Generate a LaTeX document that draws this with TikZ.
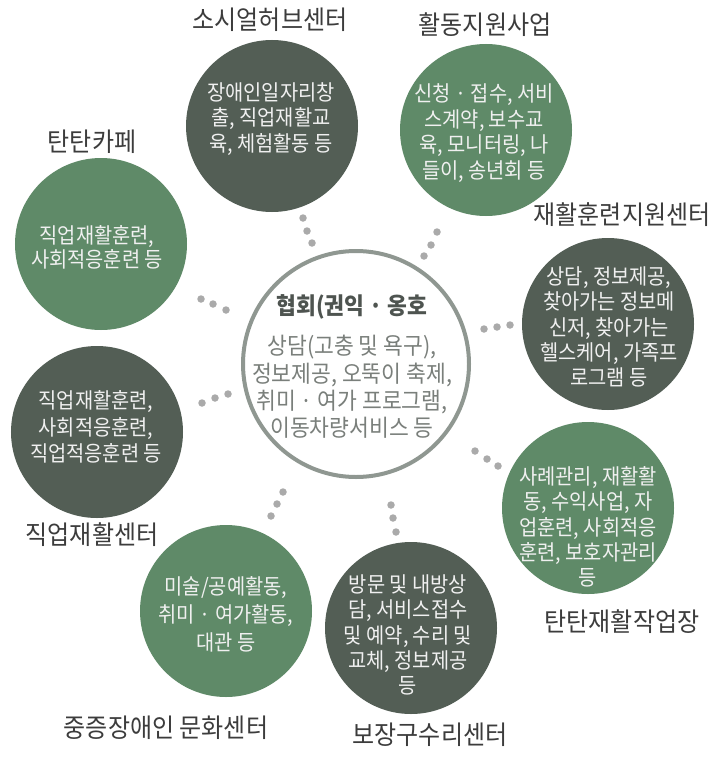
\documentclass[tikz,border=0pt]{standalone}
\usepackage{fontspec}
\setmainfont{Noto Sans CJK KR}[FakeStretch=0.92]
\definecolor{darkc}{HTML}{535E55}
\definecolor{greenc}{HTML}{5F8A68}
\definecolor{ringc}{HTML}{8F9791}
\definecolor{dotc}{HTML}{AAAAAA}
\definecolor{labc}{HTML}{3C3C3C}
\definecolor{bodyc}{HTML}{7A7F7B}
\definecolor{titc}{HTML}{4E5450}
\begin{document}
\begin{tikzpicture}[x=1bp,y=-1bp,
  dk/.style={circle, fill=darkc, minimum size=172bp, inner sep=0},
  gr/.style={circle, fill=greenc, minimum size=172bp, inner sep=0},
  ctext/.style={text=white!94!black, align=center, inner sep=0, font=\fontsize{21.6}{25.5}\selectfont},
  lbl/.style={text=labc, inner sep=0, font=\fontsize{26.2}{30}\selectfont},
  gdot/.style={circle, fill=dotc, minimum size=7.5bp, inner sep=0}]
\useasboundingbox (0,0) rectangle (716,762);
% centre
\node[circle, draw=ringc, line width=4bp, fill=white, minimum size=226bp, inner sep=0] (hub) at (356,364) {};
\node[text=titc, inner sep=0, font=\fontsize{23.5}{26}\selectfont\bfseries] (hubt) at (352,307) {협회(권익 · 옹호};
\node[text=bodyc, align=center, inner sep=0, font=\fontsize{23.5}{27.5}\selectfont] (hubb) at (352,387) {상담(고충 및 욕구),\\정보제공, 오뚝이 축제,\\취미 · 여가 프로그램,\\이동차량서비스 등};
% outer circles
\node[dk] (c1) at (272,126) {};
\node[ctext] (t1) at (271,119) {장애인일자리창\\출, 직업재활교\\육, 체험활동 등};
\node[gr] (c2) at (486,130) {};
\node[ctext] (t2) at (484,133) {신청 · 접수, 서비\\스계약, 보수교\\육, 모니터링, 나\\들이, 송년회 등};
\node[dk] (c3) at (608,324) {};
\node[ctext] (t3) at (609,327) {상담, 정보제공,\\찾아가는 정보메\\신저, 찾아가는\\헬스케어, 가족프\\로그램 등};
\node[gr] (c4) at (588,508) {};
\node[ctext] (t4) at (588,527) {사례관리, 재활활\\동, 수익사업, 자\\업훈련, 사회적응\\훈련, 보호자관리\\등};
\node[dk] (c5) at (411,628) {};
\node[ctext] (t5) at (408,635) {방문 및 내방상\\담, 서비스접수\\및 예약, 수리 및\\교체, 정보제공\\등};
\node[gr] (c6) at (226,611) {};
\node[ctext, font=\fontsize{21.6}{28}\selectfont] (t6) at (226,614) {미술/공예활동,\\취미 · 여가활동,\\대관 등};
\node[dk] (c7) at (97,432) {};
\node[ctext, font=\fontsize{21.6}{26.5}\selectfont] (t7) at (96,427) {직업재활훈련,\\사회적응훈련,\\직업적응훈련 등};
\node[gr] (c8) at (101,244) {};
\node[ctext, font=\fontsize{21.6}{24}\selectfont] (t8) at (97,247) {직업재활훈련,\\사회적응훈련 등};
% labels
\node[lbl] (l1) at (270,20) {소시얼허브센터};
\node[lbl] (l2) at (485,25) {활동지원사업};
\node[lbl] (l3) at (622,215) {재활훈련지원센터};
\node[lbl] (l4) at (622,622) {탄탄재활작업장};
\node[lbl] (l5) at (430,735) {보장구수리센터};
\node[lbl] (l6) at (166,728) {중증장애인 문화센터};
\node[lbl] (l7) at (92,535) {직업재활센터};
\node[lbl] (l8) at (92,142) {탄탄카페};
% dots
\foreach \n/\x/\y in {a1/303/218, a2/307/231, a3/312/243,
  b1/437/232, b2/431/245, b3/424/256,
  d1/484/329, d2/497/327, d3/510/325,
  e1/475/451, e2/487/459, e3/498/466,
  f1/391/505, f2/393/518, f3/396/532,
  g1/283/492, g2/277/504, g3/271/516,
  h1/202/403, h2/215/398, h3/228/394,
  k1/201/299, k2/213/304, k3/226/310}
  \node[gdot] (\n) at (\x,\y) {};
\end{tikzpicture}
\end{document}
